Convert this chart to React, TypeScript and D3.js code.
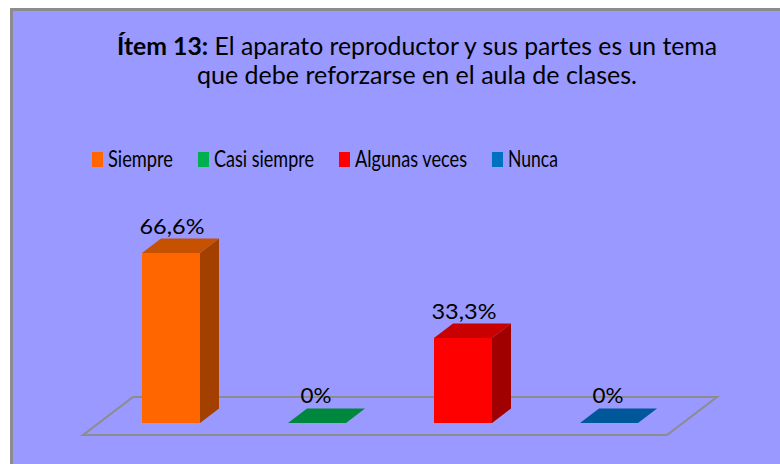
import React from "react";
import * as d3 from "d3";

const categories = ["Siempre", "Casi siempre", "Algunas veces", "Nunca"];
const values = [66.6, 0, 33.3, 0];
const valueLabels = ["66,6%", "0%", "33,3%", "0%"];
const frontColors = ["#FF6600", "#00B050", "#FF0000", "#0070C0"];
const topColors = ["#C65100", "#00873E", "#C80000", "#00579A"];
const sideColors = ["#A34000", "#006B30", "#A00000", "#004478"];

const W = 780;
const H = 464;
const FONT = "Lato, 'Open Sans', sans-serif";

export default function App() {
  const floorFrontY = 435;
  const floorDx = 50;
  const floorDy = -38;
  const x = d3.scaleBand<string>().domain(categories).range([83, 667]).paddingInner(0).paddingOuter(0);
  const y = d3.scaleLinear().domain([0, 70]).range([0, 178.7]);
  const barW = 58;
  const shiftX = 15;
  const baseY = 423;
  const depX = 19;
  const depY = -14.5;

  const legendX = [92, 198, 339, 492];
  const legendTextW = [65, 100, 112, 50];

  return (
    <svg width={W} height={H} style={{ position: "absolute", left: 0, top: 0, display: "block" }}>
      <rect x={0} y={0} width={W} height={H} fill="#ffffff" />
      <rect x={11.5} y={9.5} width={W + 10} height={H + 10} fill="#9999FF" stroke="#8C8C8C" strokeWidth={3} />
      <text x={417} y={55} textAnchor="middle" fontFamily={FONT} fontSize={24.5} fill="#000" textLength={600} lengthAdjust="spacingAndGlyphs">
        <tspan fontWeight="bold">Ítem 13:</tspan>
        <tspan> El aparato reproductor y sus partes es un tema</tspan>
      </text>
      <text x={417} y={84} textAnchor="middle" fontFamily={FONT} fontSize={24.5} fill="#000" textLength={440} lengthAdjust="spacingAndGlyphs">
        que debe reforzarse en el aula de clases.
      </text>
      {categories.map((c, i) => (
        <g key={c}>
          <rect x={legendX[i]} y={152} width={11} height={15} fill={frontColors[i]} />
          <text x={legendX[i] + 16} y={167} fontFamily={FONT} fontSize={24} fill="#000" textLength={legendTextW[i]} lengthAdjust="spacingAndGlyphs">
            {c}
          </text>
        </g>
      ))}
      <path
        d={`M${83},${floorFrontY} L${667},${floorFrontY} L${667 + floorDx},${floorFrontY + floorDy} L${83 + floorDx},${floorFrontY + floorDy} Z`}
        fill="none"
        stroke="#8C8C8C"
        strokeWidth={2}
      />
      {categories.map((c, i) => {
        const x0 = (x(c) as number) + x.bandwidth() / 2 + shiftX - barW / 2;
        const x1 = x0 + barW;
        const h = y(values[i]);
        const top = baseY - h;
        const cx = (x0 + x1) / 2;
        return (
          <g key={c}>
            {h > 0 && (
              <>
                <rect x={x0} y={top} width={barW} height={h} fill={frontColors[i]} />
                <path d={`M${x1},${top} L${x1 + depX},${top + depY} L${x1 + depX},${baseY + depY} L${x1},${baseY} Z`} fill={sideColors[i]} />
              </>
            )}
            <path d={`M${x0},${top} L${x1},${top} L${x1 + depX},${top + depY} L${x0 + depX},${top + depY} Z`} fill={topColors[i]} />
            <text
              x={cx + (h > 0 ? 1 : -1)}
              y={top + depY - (h > 0 ? 4 : 6)}
              textAnchor="middle"
              fontFamily={FONT}
              fontSize={21}
              fill="#000"
              textLength={h > 0 ? 65 : 31}
              lengthAdjust="spacingAndGlyphs"
            >
              {valueLabels[i]}
            </text>
          </g>
        );
      })}
    </svg>
  );
}
